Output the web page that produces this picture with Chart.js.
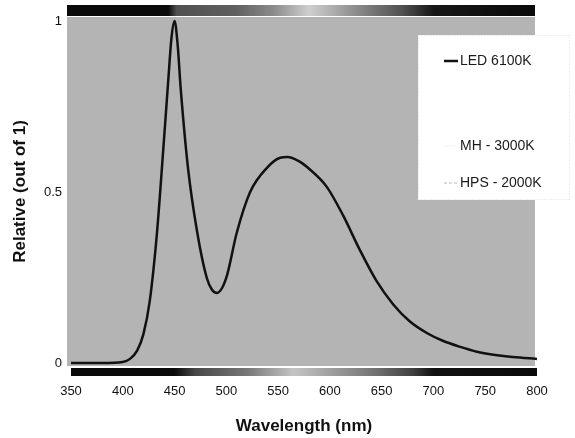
<!DOCTYPE html>
<html>
<head>
<meta charset="utf-8">
<script src="https://cdn.jsdelivr.net/npm/chart.js@4"></script>
<style>
  html, body { margin: 0; padding: 0; background: #fff; }
</style>
</head>
<body>
<canvas id="spectrumChart" width="575" height="438"></canvas>
<script>
// Spectrum data
const wavelengths = [350, 380, 400, 407, 414, 420, 426, 433, 439, 444, 447, 450, 453, 456, 463, 472, 481, 486, 491, 496, 501, 510, 523, 539, 552, 559, 570, 581, 597, 613, 629, 645, 661, 677, 694, 709, 726, 742, 758, 774, 796, 800];
const ledValues = [0, 0, 0.003, 0.012, 0.037, 0.085, 0.18, 0.38, 0.62, 0.83, 0.95, 1.0, 0.93, 0.8, 0.57, 0.38, 0.25, 0.215, 0.205, 0.22, 0.26, 0.38, 0.5, 0.57, 0.6, 0.602, 0.59, 0.565, 0.515, 0.43, 0.33, 0.24, 0.172, 0.122, 0.087, 0.065, 0.047, 0.033, 0.024, 0.018, 0.013, 0.012];
const seriesLabels = ['LED 6100K', 'MH - 3000K', 'HPS - 2000K'];
const xTicks = [350, 400, 450, 500, 550, 600, 650, 700, 750, 800];
const yTicks = [0, 0.5, 1];
const yTickLabels = ['0', '0.5', '1'];

const FONT = '"Liberation Sans", Arial, sans-serif';

// grey spectrum strips above and below the plot, stops given in nm
const topBarStops = [[350, '#0a0a0a'], [444, '#0a0a0a'], [452, '#505050'], [510, '#606060'], [545, '#8a8a8a'], [580, '#cfcfcf'], [625, '#8c8c8c'], [670, '#505050'], [700, '#161616'], [800, '#0a0a0a']];
const bottomBarStops = [[350, '#0a0a0a'], [450, '#0a0a0a'], [470, '#484848'], [520, '#777777'], [565, '#c4c4c4'], [600, '#a0a0a0'], [640, '#777777'], [680, '#404040'], [700, '#111111'], [800, '#0a0a0a']];

function drawBar(ctx, x, left, right, top, height, stops) {
    const x0 = x.getPixelForValue(350);
    const x1 = x.getPixelForValue(800);
    const grad = ctx.createLinearGradient(x0, 0, x1, 0);
    stops.forEach(([wl, c]) => grad.addColorStop((wl - 350) / 450, c));
    ctx.fillStyle = grad;
    ctx.fillRect(left, top, right - left, height);
}

const plotBackground = {
    id: 'plotBackground',
    beforeDraw(chart) {
        const {ctx, chartArea: a, scales: {x}} = chart;
        ctx.save();
        ctx.fillStyle = '#b4b4b4';
        ctx.fillRect(a.left - 4, a.top, a.width + 2, a.height);
        drawBar(ctx, x, a.left - 4, a.right - 2, a.top - 12, 11, topBarStops);
        drawBar(ctx, x, a.left, a.right, a.bottom + 2, 8, bottomBarStops);
        ctx.restore();
    }
};

// legend box drawn inside the plot, rows are unevenly spaced in the original
const boxLegend = {
    id: 'boxLegend',
    afterDraw(chart) {
        const {ctx} = chart;
        const rowY = [61, 146, 183];
        ctx.save();
        ctx.fillStyle = '#ffffff';
        ctx.fillRect(418, 35, 152, 165);
        ctx.strokeStyle = '#dddddd';
        ctx.setLineDash([1, 2]);
        ctx.lineWidth = 1;
        ctx.strokeRect(418.5, 35.5, 151, 164);
        chart.data.datasets.forEach((ds, i) => {
            const y = rowY[i];
            ctx.strokeStyle = ds.borderColor;
            ctx.lineWidth = ds.borderWidth;
            ctx.setLineDash(ds.borderDash || []);
            ctx.beginPath();
            ctx.moveTo(444, y);
            ctx.lineTo(458, y);
            ctx.stroke();
            ctx.setLineDash([]);
            ctx.fillStyle = '#1a1a1a';
            ctx.font = '14px ' + FONT;
            ctx.textBaseline = 'middle';
            ctx.fillText(ds.label, 460, y);
        });
        ctx.restore();
    }
};

const ctx = document.getElementById('spectrumChart').getContext('2d');

new Chart(ctx, {
    type: 'line',
    data: {
        datasets: [{
            label: seriesLabels[0],
            data: wavelengths.map((w, i) => ({x: w, y: ledValues[i]})),
            borderColor: '#111111',
            borderWidth: 2.5,
            pointRadius: 0,
            cubicInterpolationMode: 'monotone',
            fill: false
        }, {
            label: seriesLabels[1],
            data: [],
            borderColor: '#f2f2f2',
            borderWidth: 1,
            pointRadius: 0
        }, {
            label: seriesLabels[2],
            data: [],
            borderColor: '#b8b8b8',
            borderWidth: 1,
            borderDash: [3, 2],
            pointRadius: 0
        }]
    },
    options: {
        responsive: false,
        devicePixelRatio: 1,
        animation: false,
        layout: {padding: {top: 17, right: 38, left: 0, bottom: 0}},
        plugins: {
            legend: {display: false},
            tooltip: {enabled: false}
        },
        scales: {
            x: {
                type: 'linear',
                min: 350,
                max: 800,
                afterFit(scale) { scale.height = 72; },
                afterBuildTicks(scale) { scale.ticks = xTicks.map(v => ({value: v})); },
                ticks: {padding: 18, maxRotation: 0, autoSkip: false, color: '#111', font: {family: FONT, size: 13}},
                grid: {display: false, drawTicks: false},
                border: {display: false},
                title: {display: true, text: 'Wavelength (nm)', color: '#111', font: {family: FONT, size: 17, weight: 'bold'}, padding: {top: 0, bottom: 1}}
            },
            y: {
                min: -0.0088,
                max: 1.0117,
                afterFit(scale) { scale.width = 71; },
                afterBuildTicks(scale) { scale.ticks = yTicks.map(v => ({value: v})); },
                ticks: {
                    padding: 9,
                    color: '#111',
                    font: {family: FONT, size: 13},
                    callback: (v) => yTickLabels[yTicks.indexOf(v)]
                },
                grid: {display: false, drawTicks: false},
                border: {display: false},
                title: {display: true, text: 'Relative (out of 1)', color: '#111', font: {family: FONT, size: 17, weight: 'bold'}, padding: {top: 10, bottom: 0}}
            }
        }
    },
    plugins: [plotBackground, boxLegend]
});
</script>
</body>
</html>
